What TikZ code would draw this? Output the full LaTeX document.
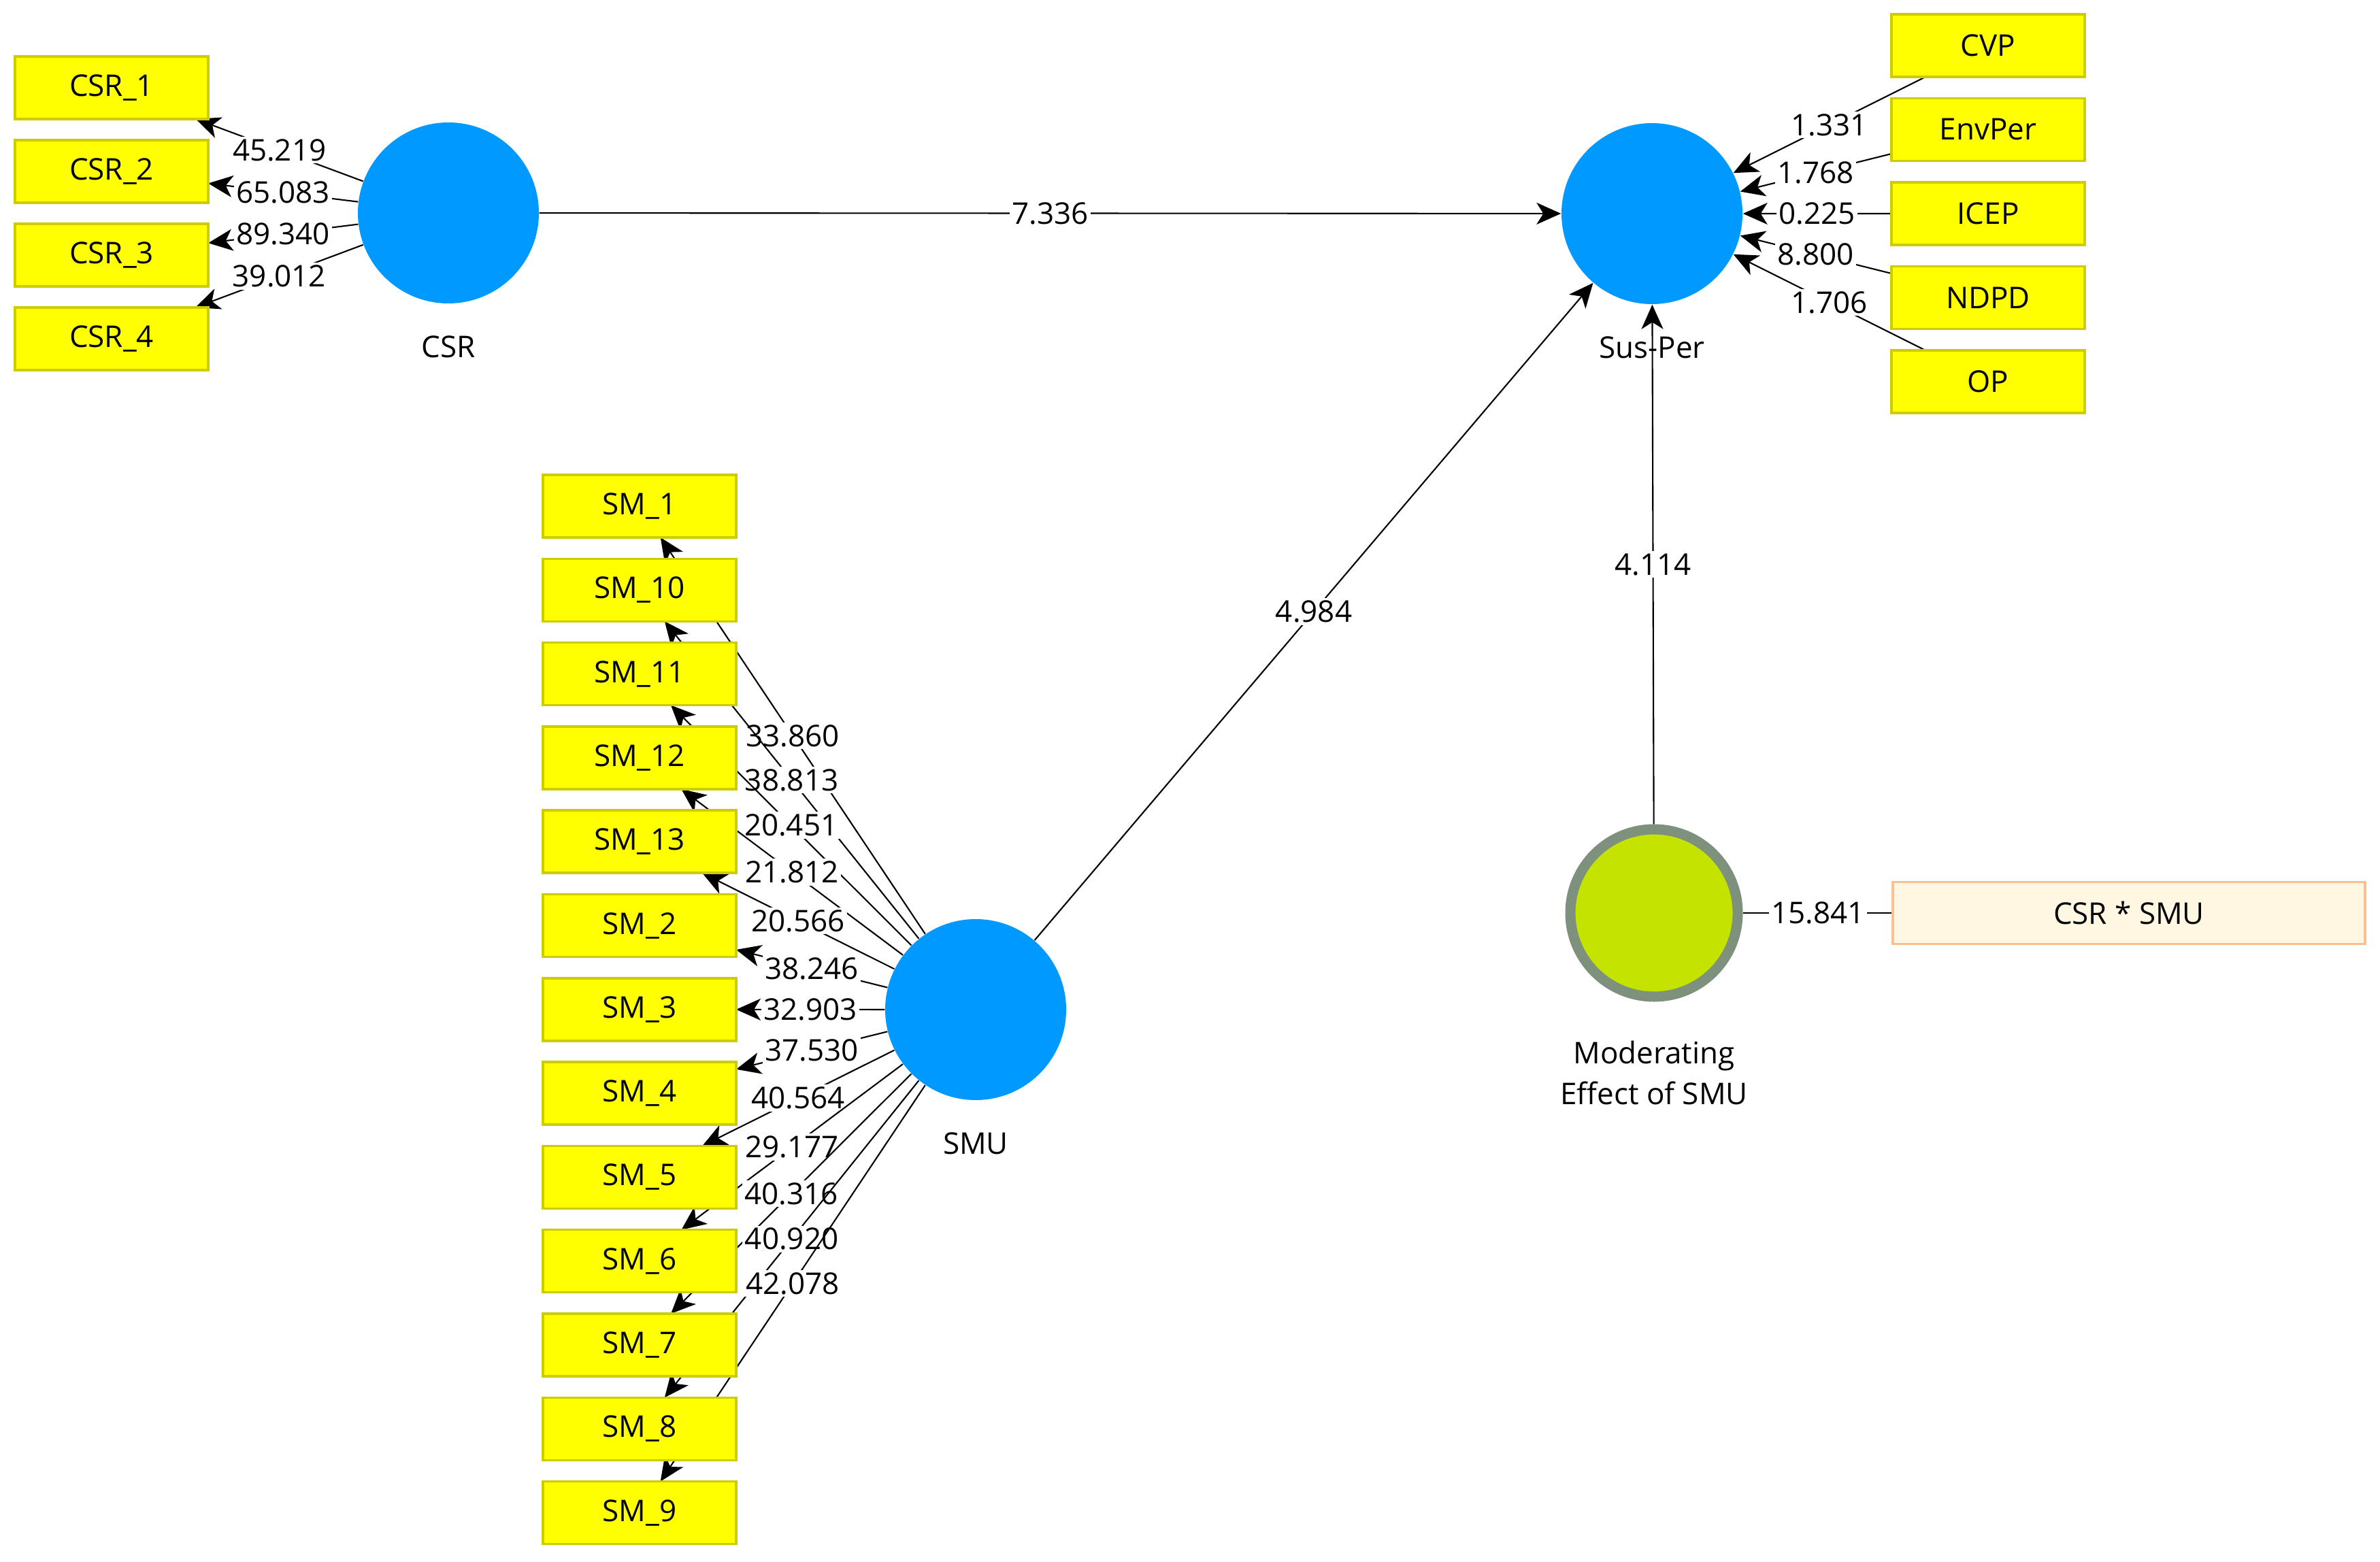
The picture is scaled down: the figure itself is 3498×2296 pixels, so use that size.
\documentclass[tikz,border=0pt]{standalone}
\usepackage{fontspec}
\setmainfont{Open Sans}
\usepackage{xcolor}
\usepackage{tikz}
\usetikzlibrary{arrows.meta,positioning}
\pgfdeclarelayer{back}
\pgfsetlayers{back,main}

\definecolor{indfill}{RGB}{255,255,0}
\definecolor{inddraw}{RGB}{204,204,0}
\definecolor{lvblue}{RGB}{0,153,255}
\definecolor{modfill}{RGB}{196,228,0}
\definecolor{moddraw}{RGB}{125,145,125}
\definecolor{intfill}{RGB}{255,247,226}
\definecolor{intdraw}{RGB}{250,192,145}

\begin{document}
\begin{tikzpicture}[x=0.1mm, y=-0.1mm, font=\fontsize{12.5}{17}\selectfont]

\tikzstyle{indicator} = [draw=inddraw, fill=indfill, line width=1pt, rectangle, minimum width=28.4mm, minimum height=9.2mm, inner sep=0pt, outer sep=0pt]
\tikzstyle{latent} = [circle, fill=lvblue, minimum size=26.6mm, inner sep=0pt]
\tikzstyle{loading} = [line width=0.6pt, -{Stealth[length=3.6mm, width=3.2mm, inset=1mm]}]
\tikzstyle{value} = [fill=white, inner sep=1pt]

\useasboundingbox (0,0) rectangle (3498,2296);

% latent variables
\node [latent] (csr) at (659,313) {};
\node [below=3.5mm of csr] (csr-name) {CSR};
\node [latent] (susper) at (2428,314) {};
\node [below=3.5mm of susper] (susper-name) {Sus-Per};
\node [latent] (smu) at (1434,1484) {};
\node [below=3.5mm of smu] (smu-name) {SMU};
\node [circle, draw=moddraw, fill=modfill, line width=1.5mm, minimum size=24.6mm, inner sep=0pt] (moderating) at (2431,1342) {};
\node [below=4.5mm of moderating, align=center] (moderating-name) {Moderating\\Effect of SMU};

% indicators of CSR
\node [indicator] (csr1) at (164,129) {CSR\_1};
\node [indicator, below=3.1mm of csr1] (csr2) {CSR\_2};
\node [indicator, below=3.1mm of csr2] (csr3) {CSR\_3};
\node [indicator, below=3.1mm of csr3] (csr4) {CSR\_4};

% indicators of Sus-Per
\node [indicator] (cvp) at (2922,67) {CVP};
\node [indicator, below=3.15mm of cvp] (envper) {EnvPer};
\node [indicator, below=3.15mm of envper] (icep) {ICEP};
\node [indicator, below=3.15mm of icep] (ndpd) {NDPD};
\node [indicator, below=3.15mm of ndpd] (op) {OP};

% indicators of SMU
\node [indicator] (sm1) at (940,744) {SM\_1};
\node [indicator, below=3.13mm of sm1] (sm10) {SM\_10};
\node [indicator, below=3.13mm of sm10] (sm11) {SM\_11};
\node [indicator, below=3.13mm of sm11] (sm12) {SM\_12};
\node [indicator, below=3.13mm of sm12] (sm13) {SM\_13};
\node [indicator, below=3.13mm of sm13] (sm2) {SM\_2};
\node [indicator, below=3.13mm of sm2] (sm3) {SM\_3};
\node [indicator, below=3.13mm of sm3] (sm4) {SM\_4};
\node [indicator, below=3.13mm of sm4] (sm5) {SM\_5};
\node [indicator, below=3.13mm of sm5] (sm6) {SM\_6};
\node [indicator, below=3.13mm of sm6] (sm7) {SM\_7};
\node [indicator, below=3.13mm of sm7] (sm8) {SM\_8};
\node [indicator, below=3.13mm of sm8] (sm9) {SM\_9};

% interaction term
\node [draw=intdraw, fill=intfill, line width=1pt, minimum width=69.4mm, minimum height=9.1mm, inner sep=0pt, outer sep=0pt] (csrsmu) at (3129,1342) {CSR * SMU};

\begin{pgfonlayer}{back}
% outer loadings
\draw [loading] (csr) -- node[value] {45.219} (csr1);
\draw [loading] (csr) -- node[value] {65.083} (csr2);
\draw [loading] (csr) -- node[value] {89.340} (csr3);
\draw [loading] (csr) -- node[value] {39.012} (csr4);

\draw [loading] (cvp) -- node[value] {1.331} (susper);
\draw [loading] (envper) -- node[value] {1.768} (susper);
\draw [loading] (icep) -- node[value] {0.225} (susper);
\draw [loading] (ndpd) -- node[value] {8.800} (susper);
\draw [loading] (op) -- node[value] {1.706} (susper);

\draw [loading] (smu) -- node[value] {33.860} (sm1);
\draw [loading] (smu) -- node[value] {38.813} (sm10);
\draw [loading] (smu) -- node[value] {20.451} (sm11);
\draw [loading] (smu) -- node[value] {21.812} (sm12);
\draw [loading] (smu) -- node[value] {20.566} (sm13);
\draw [loading] (smu) -- node[value] {38.246} (sm2);
\draw [loading] (smu) -- node[value] {32.903} (sm3);
\draw [loading] (smu) -- node[value] {37.530} (sm4);
\draw [loading] (smu) -- node[value] {40.564} (sm5);
\draw [loading] (smu) -- node[value] {29.177} (sm6);
\draw [loading] (smu) -- node[value] {40.316} (sm7);
\draw [loading] (smu) -- node[value] {40.920} (sm8);
\draw [loading] (smu) -- node[value] {42.078} (sm9);

% inner model
\draw [loading] (csr) -- node[value] {7.336} (susper);
\draw [loading] (smu) -- node[value] {4.984} (susper);
\draw [loading] (moderating) -- node[value] {4.114} (susper);
\draw [line width=0.6pt] (moderating) -- node[value] {15.841} (csrsmu);
\end{pgfonlayer}

\end{tikzpicture}
\end{document}
